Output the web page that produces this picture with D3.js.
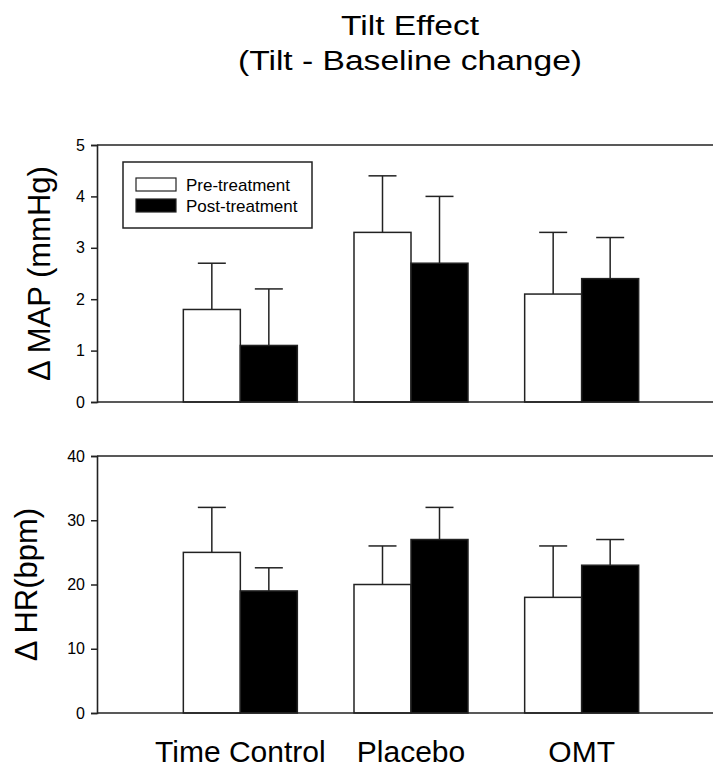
<!DOCTYPE html>
<html><head><meta charset="utf-8">
<script src="https://cdn.jsdelivr.net/npm/d3@7"></script>
<style>body{margin:0;background:#fff;} svg{display:block;} text{font-family:Arial,"Liberation Sans",sans-serif;fill:#000;}</style>
</head><body>
<script>
const categories = ["Time Control", "Placebo", "OMT"];
const seriesNames = ["Pre-treatment", "Post-treatment"];
const mapPre = [1.8, 3.3, 2.1];
const mapPreErr = [0.9, 1.1, 1.2];
const mapPost = [1.1, 2.7, 2.4];
const mapPostErr = [1.1, 1.3, 0.8];
const hrPre = [25, 20, 18];
const hrPreErr = [7, 6, 8];
const hrPost = [19, 27, 23];
const hrPostErr = [3.6, 5, 4];
const mapTicks = [0, 1, 2, 3, 4, 5];
const hrTicks = [0, 10, 20, 30, 40];

const W = 713, H = 771;
const svg = d3.select("body").append("svg").attr("width", W).attr("height", H);

const left = 97, right = 724;
const x0 = d3.scaleBand().domain(categories).range([155, 667]);
const barW = 57;
const x1 = d3.scaleBand().domain(seriesNames)
  .range([x0.bandwidth() / 2 - barW, x0.bandwidth() / 2 + barW]);
const fills = ["#fff", "#000"];

// Title
const title = svg.append("g").attr("transform", "translate(410,0) scale(1.2,1)");
title.append("text").attr("x", 0).attr("y", 35).attr("text-anchor", "middle").attr("font-size", 28).text("Tilt Effect");
title.append("text").attr("x", 0).attr("y", 70).attr("text-anchor", "middle").attr("font-size", 28).text("(Tilt - Baseline change)");

function panel(top, bottom, domainMax, ticks, pre, preErr, post, postErr, label, labelX) {
  const y = d3.scaleLinear().domain([0, domainMax]).range([bottom, top]);
  const g = svg.append("g");
  g.append("line").attr("x1", left).attr("x2", right).attr("y1", top).attr("y2", top)
    .attr("stroke", "#222").attr("stroke-width", 1.6);
  const rows = categories.map((c, i) => ({c, vals: [
    {s: seriesNames[0], v: pre[i], e: preErr[i]},
    {s: seriesNames[1], v: post[i], e: postErr[i]}]}));
  const grp = g.selectAll("g.grp").data(rows).join("g")
    .attr("transform", d => `translate(${x0(d.c)},0)`);
  grp.selectAll("line.err").data(d => d.vals).join("line")
    .attr("x1", d => x1(d.s) + x1.bandwidth() / 2).attr("x2", d => x1(d.s) + x1.bandwidth() / 2)
    .attr("y1", d => y(d.v)).attr("y2", d => y(d.v + d.e))
    .attr("stroke", "#222").attr("stroke-width", 1.5);
  grp.selectAll("line.cap").data(d => d.vals).join("line")
    .attr("x1", d => x1(d.s) + x1.bandwidth() / 2 - 14).attr("x2", d => x1(d.s) + x1.bandwidth() / 2 + 14)
    .attr("y1", d => y(d.v + d.e)).attr("y2", d => y(d.v + d.e))
    .attr("stroke", "#222").attr("stroke-width", 1.5);
  grp.selectAll("rect").data(d => d.vals).join("rect")
    .attr("x", d => x1(d.s)).attr("width", x1.bandwidth())
    .attr("y", d => y(d.v)).attr("height", d => y(0) - y(d.v))
    .attr("fill", (d, i) => fills[i]).attr("stroke", "#222").attr("stroke-width", 1.5);
  g.append("line").attr("x1", left).attr("x2", right).attr("y1", bottom).attr("y2", bottom)
    .attr("stroke", "#222").attr("stroke-width", 1.6);
  const ax = g.append("g").attr("transform", `translate(${left},0)`)
    .call(d3.axisLeft(y).tickValues(ticks).tickSize(6).tickPadding(6).tickFormat(d3.format("d")));
  ax.select(".domain").attr("stroke", "#222").attr("stroke-width", 1.6);
  ax.selectAll(".tick line").attr("stroke", "#222").attr("stroke-width", 1.5);
  ax.selectAll(".tick text").attr("font-size", 16).attr("font-family", "Arial, 'Liberation Sans', sans-serif").attr("fill", "#000");
  g.append("text").attr("transform", `translate(${labelX},${(top + bottom) / 2}) rotate(-90)`)
    .attr("text-anchor", "middle").attr("font-size", 31).text(label);
  return y;
}

panel(145, 402, 5, mapTicks, mapPre, mapPreErr, mapPost, mapPostErr, "\u0394 MAP (mmHg)", 50);
panel(456, 713, 40, hrTicks, hrPre, hrPreErr, hrPost, hrPostErr, "\u0394 HR(bpm)", 37);

const lg = svg.append("g");
lg.append("rect").attr("x", 123).attr("y", 162).attr("width", 189).attr("height", 66)
  .attr("fill", "#fff").attr("stroke", "#222").attr("stroke-width", 1.5);
seriesNames.forEach((s, i) => {
  lg.append("rect").attr("x", 136).attr("y", 178 + i * 21).attr("width", 40).attr("height", 13)
    .attr("fill", fills[i]).attr("stroke", "#222").attr("stroke-width", 1.2);
  lg.append("text").attr("x", 186).attr("y", 191 + i * 21).attr("font-size", 17).text(s);
});

svg.append("g").selectAll("text").data(categories).join("text")
  .attr("x", d => x0(d) + x0.bandwidth() / 2).attr("y", 762)
  .attr("text-anchor", "middle").attr("font-size", 30).text(d => d);
</script>
</body></html>
